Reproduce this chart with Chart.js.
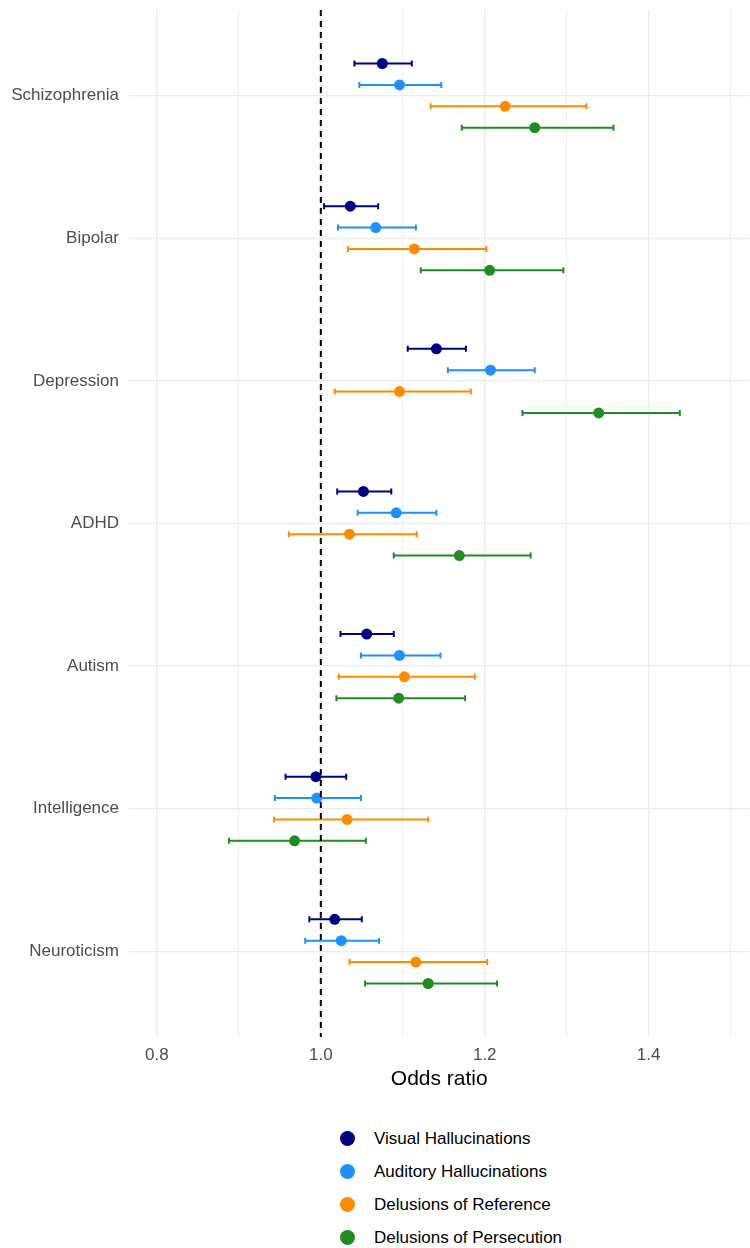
<!DOCTYPE html>
<html>
<head>
<meta charset="utf-8">
<script src="https://cdn.jsdelivr.net/npm/chart.js@4"></script>
<style>
  body { margin: 0; background: #fff; font-family: "Liberation Sans", Arial, sans-serif; overflow: hidden; }
  #wrap { position: relative; width: 750px; height: 1248px; overflow: hidden; }
  /* a bit wider than the page: Chart.js keeps ~5px free on the right */
  #box { position: absolute; left: 0; top: 0; width: 755px; height: 1100px; }
  #legend { position: absolute; left: 340px; top: 1122px; }
  .item { display: flex; align-items: center; height: 33px; font-size: 17px; color: #000; }
  .dot { width: 15px; height: 15px; border-radius: 50%; margin-right: 19px; }
</style>
</head>
<body>
<div id="wrap">
  <div id="box"><canvas id="forest"></canvas></div>
  <div id="legend"></div>
</div>
<script>
// categories, top to bottom
const categories = ["Schizophrenia", "Bipolar", "Depression", "ADHD", "Autism", "Intelligence", "Neuroticism"];
const seriesNames = ["Visual Hallucinations", "Auditory Hallucinations", "Delusions of Reference", "Delusions of Persecution"];
const seriesColors = ["#000080", "#1E90FF", "#FF8C00", "#228B22"];

// odds ratios per series, same order as categories
const visualOR = [1.075, 1.036, 1.141, 1.052, 1.056, 0.994, 1.017];
const visualLo = [1.041, 1.004, 1.106, 1.020, 1.024, 0.957, 0.986];
const visualHi = [1.111, 1.070, 1.177, 1.086, 1.089, 1.031, 1.050];

const auditoryOR = [1.096, 1.067, 1.207, 1.092, 1.096, 0.995, 1.025];
const auditoryLo = [1.047, 1.021, 1.155, 1.045, 1.049, 0.944, 0.981];
const auditoryHi = [1.147, 1.116, 1.261, 1.141, 1.146, 1.049, 1.071];

const referenceOR = [1.225, 1.114, 1.096, 1.035, 1.102, 1.032, 1.116];
const referenceLo = [1.134, 1.033, 1.017, 0.961, 1.022, 0.943, 1.035];
const referenceHi = [1.324, 1.202, 1.183, 1.117, 1.188, 1.131, 1.203];

const persecutionOR = [1.261, 1.206, 1.339, 1.169, 1.095, 0.968, 1.131];
const persecutionLo = [1.172, 1.122, 1.246, 1.089, 1.019, 0.888, 1.054];
const persecutionHi = [1.357, 1.296, 1.438, 1.256, 1.176, 1.055, 1.215];

const xTicks = [0.8, 1.0, 1.2, 1.4];
const xMinor = [0.9, 1.1, 1.3, 1.5];

const estimates = [visualOR, auditoryOR, referenceOR, persecutionOR];
const lowers = [visualLo, auditoryLo, referenceLo, persecutionLo];
const uppers = [visualHi, auditoryHi, referenceHi, persecutionHi];
// dodge offsets (in category units), first series on top
const dodge = [0.225, 0.075, -0.075, -0.225];

const n = categories.length;
const FONT = "'Liberation Sans', Arial, sans-serif";

const datasets = seriesNames.map(function (name, s) {
  return {
    label: name,
    data: estimates[s].map(function (v, i) {
      return { x: v, y: n - i + dodge[s], lo: lowers[s][i], hi: uppers[s][i] };
    }),
    backgroundColor: seriesColors[s],
    borderWidth: 0,
    pointRadius: 5.5,
    pointHoverRadius: 5.5,
  };
});

// horizontal error bars, drawn under the points
const errorBars = {
  id: "errorBars",
  beforeDatasetsDraw(chart) {
    const ctx = chart.ctx;
    const xs = chart.scales.x;
    const ys = chart.scales.y;
    ctx.save();
    chart.data.datasets.forEach(function (ds) {
      ctx.strokeStyle = ds.backgroundColor;
      ctx.lineWidth = 2;
      ds.data.forEach(function (d) {
        const y = ys.getPixelForValue(d.y);
        const x1 = xs.getPixelForValue(d.lo);
        const x2 = xs.getPixelForValue(d.hi);
        ctx.beginPath();
        ctx.moveTo(x1, y);
        ctx.lineTo(x2, y);
        ctx.moveTo(x1, y - 3);
        ctx.lineTo(x1, y + 3);
        ctx.moveTo(x2, y - 3);
        ctx.lineTo(x2, y + 3);
        ctx.stroke();
      });
    });
    ctx.restore();
  },
};

// reference line at OR = 1
const refLine = {
  id: "refLine",
  afterDatasetsDraw(chart) {
    const ctx = chart.ctx;
    const x = chart.scales.x.getPixelForValue(1);
    ctx.save();
    ctx.strokeStyle = "#000";
    ctx.lineWidth = 2;
    ctx.setLineDash([6, 5]);
    ctx.beginPath();
    ctx.moveTo(x, chart.chartArea.top);
    ctx.lineTo(x, chart.chartArea.bottom);
    ctx.stroke();
    ctx.restore();
  },
};

new Chart(document.getElementById("forest"), {
  type: "scatter",
  data: { datasets: datasets },
  options: {
    responsive: true,
    maintainAspectRatio: false,
    animation: false,
    layout: { padding: { top: 10, right: 0, left: 0, bottom: 0 } },
    plugins: {
      legend: { display: false },
      tooltip: { enabled: false },
    },
    scales: {
      x: {
        type: "linear",
        min: 0.766,
        max: 1.523,
        afterBuildTicks: function (scale) {
          scale.ticks = xTicks.concat(xMinor).sort().map(function (v) { return { value: v }; });
        },
        afterFit: function (scale) {
          scale.height = 63;
        },
        border: { display: false },
        grid: {
          drawTicks: false,
          color: "#ebebeb",
          lineWidth: function (c) {
            return xTicks.indexOf(c.tick.value) >= 0 ? 1.3 : 0.8;
          },
        },
        ticks: {
          padding: 8,
          color: "#4d4d4d",
          font: { family: FONT, size: 17 },
          callback: function (v) {
            return xTicks.indexOf(v) >= 0 ? v.toFixed(1) : "";
          },
        },
        title: {
          display: true,
          text: "Odds ratio",
          color: "#000",
          font: { family: FONT, size: 21 },
          padding: { top: 0, bottom: 8 },
        },
      },
      y: {
        type: "linear",
        min: 0.4,
        max: n + 0.6,
        afterBuildTicks: function (scale) {
          scale.ticks = categories.map(function (c, i) { return { value: n - i }; });
        },
        afterFit: function (scale) {
          scale.width = 129;
          scale.paddingTop = 0;
          scale.paddingBottom = 0;
        },
        border: { display: false },
        grid: { drawTicks: false, color: "#ebebeb", lineWidth: 1.3 },
        ticks: {
          padding: 10,
          color: "#4d4d4d",
          font: { family: FONT, size: 17 },
          callback: function (v) { return categories[n - v]; },
        },
      },
    },
  },
  plugins: [errorBars, refLine],
});

// legend, one series per row
const legend = document.getElementById("legend");
seriesNames.forEach(function (name, s) {
  const row = document.createElement("div");
  row.className = "item";
  const dot = document.createElement("span");
  dot.className = "dot";
  dot.style.background = seriesColors[s];
  row.appendChild(dot);
  row.appendChild(document.createTextNode(name));
  legend.appendChild(row);
});
</script>
</body>
</html>
